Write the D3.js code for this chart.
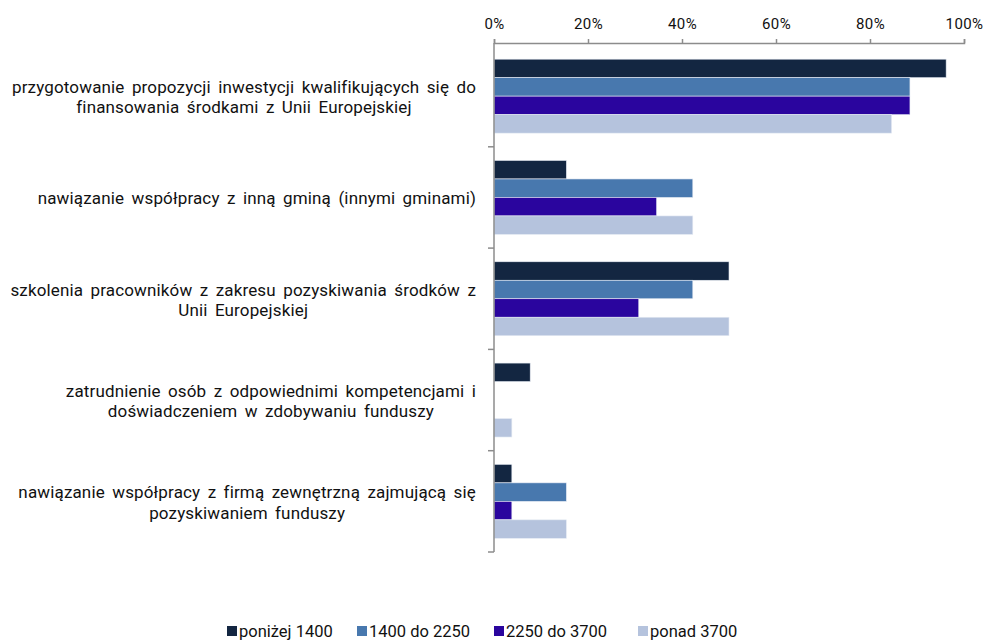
<!DOCTYPE html>
<html>
<head>
<meta charset="utf-8">
<script src="https://cdn.jsdelivr.net/npm/d3@7"></script>
<style>
  body { margin: 0; background: #fff; }
  text { font-family: Roboto, sans-serif; fill: #111; }
</style>
</head>
<body>
<svg></svg>
<script>
var categories = [
  ["przygotowanie propozycji inwestycji  kwalifikujących  się do", "finansowania środkami z Unii Europejskiej"],
  ["nawiązanie współpracy z inną gminą (innymi gminami)"],
  ["szkolenia pracowników z zakresu pozyskiwania środków z", "Unii Europejskiej"],
  ["zatrudnienie osób z odpowiednimi kompetencjami  i", "doświadczeniem w zdobywaniu funduszy"],
  ["nawiązanie współpracy z firmą zewnętrzną zajmującą się", "pozyskiwaniem funduszy"]
];
var seriesNames = ["poniżej 1400", "1400 do 2250", "2250 do 3700", "ponad 3700"];
var seriesColors = ["#132641", "#4878ae", "#2a059e", "#b5c3dd"];
var poniżej1400 = [96.2, 15.4, 50.0, 7.7, 3.8];
var od1400do2250 = [88.5, 42.3, 42.3, 0, 15.4];
var od2250do3700 = [88.5, 34.6, 30.8, 0, 3.8];
var ponad3700 = [84.6, 42.3, 50.0, 3.8, 15.4];
var tickValues = [0, 20, 40, 60, 80, 100];

var series = [poniżej1400, od1400do2250, od2250do3700, ponad3700];

var width = 985, height = 642;
var svg = d3.select("svg").attr("width", width).attr("height", height);

var x = d3.scaleLinear().domain([0, 100]).range([494, 964]);
var y = d3.scaleBand().domain(d3.range(categories.length)).range([45.5, 552]).paddingInner(0.27).paddingOuter(0.135);
var yInner = d3.scaleBand().domain(d3.range(series.length)).range([0, y.bandwidth()]);

// bars
series.forEach(function(vals, s) {
  svg.append("g").selectAll("rect")
    .data(vals)
    .enter().append("rect")
      .attr("x", x(0))
      .attr("y", function(d, i) { return y(i) + yInner(s); })
      .attr("width", function(d) { return x(d) - x(0); })
      .attr("height", yInner.bandwidth())
      .attr("fill", seriesColors[s])
      .attr("stroke", "#e6ebf3")
      .attr("stroke-width", 0.6);
});

// top axis
var xAxis = d3.axisTop(x).tickValues(tickValues).tickSize(4).tickFormat(function(d) { return d + "%"; });
var gx = svg.append("g").attr("transform", "translate(0,43)").call(xAxis);
gx.select(".domain").attr("stroke", "#8c8c8c").attr("stroke-width", 1.5);
gx.selectAll(".tick line").attr("stroke", "#8c8c8c").attr("stroke-width", 1.5);
gx.selectAll(".tick text").attr("font-size", 15).attr("font-family", "Roboto, sans-serif")
  .attr("letter-spacing", "0.4px").attr("fill", "#111").attr("y", -14.5).attr("dy", 0);

// left axis with ticks between categories
var gap = y.step() * y.paddingInner() / 2;
var bounds = d3.range(1, categories.length).map(function(i) { return y(i) - gap; });
bounds.push(552);
svg.append("line").attr("x1", x(0)).attr("x2", x(0)).attr("y1", 43).attr("y2", 552)
  .attr("stroke", "#8c8c8c").attr("stroke-width", 1.5);
svg.append("g").selectAll("line")
  .data(bounds)
  .enter().append("line")
    .attr("x1", x(0) - 6).attr("x2", x(0))
    .attr("y1", function(d) { return d; }).attr("y2", function(d) { return d; })
    .attr("stroke", "#8c8c8c").attr("stroke-width", 1.5);

// category labels
var labels = svg.append("g");
categories.forEach(function(lines, i) {
  var g = labels.append("g");
  var cy = y(i) + y.bandwidth() / 2 + 7;
  var lh = 20.5;
  var t = g.selectAll("text").data(lines).enter().append("text")
    .attr("font-size", 17)
    .attr("letter-spacing", "0.15px")
    .attr("word-spacing", "3px")
    .attr("text-anchor", "middle")
    .attr("y", function(d, j) { return cy + (j - (lines.length - 1) / 2) * lh; })
    .text(function(d) { return d; });
  var maxW = d3.max(t.nodes(), function(n) { return n.getComputedTextLength(); });
  t.attr("x", 476 - maxW / 2);
});

// legend
var legendX = [227, 357, 494, 638];
var legend = svg.append("g").selectAll("g")
  .data(seriesNames)
  .enter().append("g")
    .attr("transform", function(d, i) { return "translate(" + legendX[i] + ",626)"; });
legend.append("rect").attr("width", 10).attr("height", 10).attr("fill", function(d, i) { return seriesColors[i]; });
legend.append("text").attr("x", 12).attr("y", 10.5).attr("font-size", 16.5).text(function(d) { return d; });
</script>
</body>
</html>
